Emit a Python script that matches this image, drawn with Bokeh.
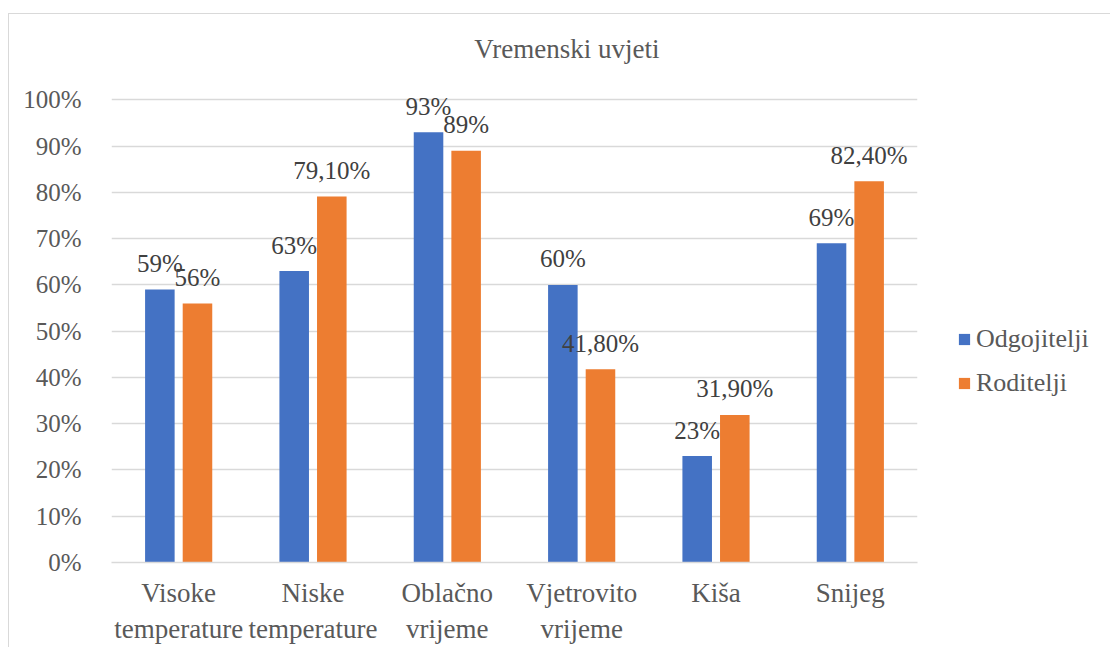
from bokeh.plotting import figure
from bokeh.models import ColumnDataSource, Legend, LegendItem, FixedTicker, CustomJSTickFormatter
from bokeh.transform import dodge
from bokeh.core.properties import value
from bokeh.embed import file_html
from bokeh.resources import INLINE

categories = ["Visoke\ntemperature", "Niske\ntemperature", "Oblačno\nvrijeme",
              "Vjetrovito\nvrijeme", "Kiša", "Snijeg"]
odgojitelji = [59, 63, 93, 60, 23, 69]
roditelji = [56, 79.1, 89, 41.8, 31.9, 82.4]
odgojitelji_labels = ["59%", "63%", "93%", "60%", "23%", "69%"]
roditelji_labels = ["56%", "79,10%", "89%", "41,80%", "31,90%", "82,40%"]
y_ticks = [0, 10, 20, 30, 40, 50, 60, 70, 80, 90, 100]
title_text = "Vremenski uvjeti"

FONT = "Times New Roman, Liberation Serif, serif"
BLUE = "#4472C4"
ORANGE = "#ED7D31"

src = ColumnDataSource(dict(cat=categories, o=odgojitelji, r=roditelji,
                            ol=odgojitelji_labels, rl=roditelji_labels))

p = figure(x_range=categories, y_range=(0, 115), frame_width=806, frame_height=532,
           output_backend="svg", toolbar_location=None,
           min_border_left=111, min_border_right=192, min_border_top=30, min_border_bottom=85)
p.outline_line_color = None
p.background_fill_color = "white"
p.border_fill_color = None
# outer chart border drawn as the page background behind the transparent border area
p.styles = {"background": ("linear-gradient(#d9d9d9,#d9d9d9) 8px 13px / 1px 100% no-repeat, "
                           "linear-gradient(#d9d9d9,#d9d9d9) 8px 13px / 100% 1px no-repeat, white")}

r1 = p.vbar(x=dodge("cat", -0.14, range=p.x_range), top="o", width=0.22, source=src,
            fill_color=BLUE, line_color=None)
r2 = p.vbar(x=dodge("cat", 0.14, range=p.x_range), top="r", width=0.22, source=src,
            fill_color=ORANGE, line_color=None)

p.text(x=dodge("cat", -0.14, range=p.x_range), y="o", text="ol", source=src,
       text_align="center", text_baseline="middle", y_offset=-26,
       text_font=value(FONT), text_font_size="25px", text_color="#404040")
p.text(x=dodge("cat", 0.14, range=p.x_range), y="r", text="rl", source=src,
       text_align="center", text_baseline="middle", y_offset=-26,
       text_font=value(FONT), text_font_size="25px", text_color="#404040")

# title
p.text(x=[3.39], y=[110.9], text=[title_text], text_align="center", text_baseline="middle",
       text_font=value(FONT), text_font_size="27px", text_color="#595959")

# axes
p.yaxis.ticker = FixedTicker(ticks=y_ticks)
p.yaxis.formatter = CustomJSTickFormatter(code="return tick + '%';")
p.yaxis.axis_line_color = None
p.yaxis.major_tick_line_color = None
p.yaxis.minor_tick_line_color = None
p.yaxis.major_label_standoff = 24
p.yaxis.major_label_text_font = FONT
p.yaxis.major_label_text_font_size = "25px"
p.yaxis.major_label_text_color = "#595959"

p.xaxis.axis_line_color = "#d9d9d9"
p.xaxis.axis_line_width = 1.5
p.xaxis.major_tick_line_color = None
p.xaxis.minor_tick_line_color = None
p.xaxis.major_label_standoff = 9
p.xaxis.major_label_text_font = FONT
p.xaxis.major_label_text_font_size = "27px"
p.xaxis.major_label_text_color = "#595959"

p.xgrid.grid_line_color = None
p.ygrid.grid_line_color = "#d9d9d9"
p.ygrid.grid_line_width = 1.5

legend = Legend(items=[LegendItem(label="Odgojitelji", renderers=[r1]),
                       LegendItem(label="Roditelji", renderers=[r2])],
                location=(40, 164), orientation="vertical",
                label_text_font=FONT, label_text_font_size="26px", label_text_color="#595959",
                glyph_width=14, glyph_height=14, label_standoff=5, spacing=14,
                padding=0, margin=0, border_line_color=None, background_fill_alpha=0)
p.add_layout(legend, "right")

open("out.html", "w").write(file_html(p, INLINE))
